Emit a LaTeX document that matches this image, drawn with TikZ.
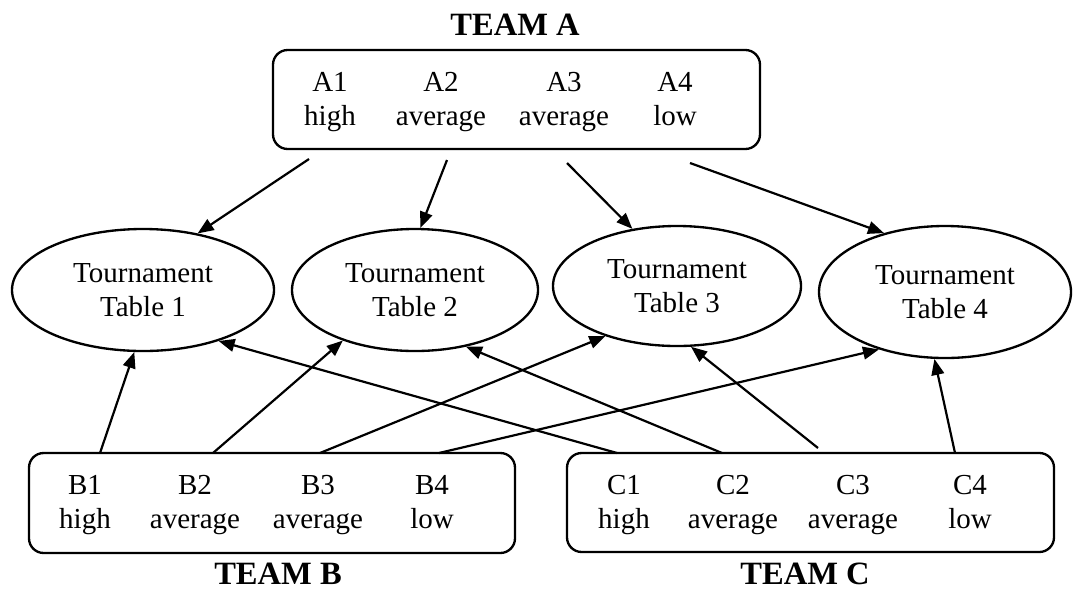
\documentclass[tikz,border=0pt]{standalone}
\usepackage{fontspec}
\setmainfont{Liberation Serif}
\usetikzlibrary{shapes.geometric,arrows.meta}
\begin{document}
\begin{tikzpicture}[x=0.75pt,y=-0.75pt,
  txt/.style={font=\fontsize{21.75}{25.5}\selectfont, align=center, inner sep=0pt},
  teamlabel/.style={font=\fontsize{24.4}{28}\selectfont\bfseries, inner sep=0pt},
  teambox/.style={draw, line width=1.75pt, rounded corners=11pt, inner sep=0pt},
  tablenode/.style={draw, ellipse, line width=1.75pt, inner sep=0pt,
    font=\fontsize{21.75}{25.5}\selectfont, align=center},
  link/.style={line width=1.65pt, -{Triangle[length=12pt,width=9.5pt]}}]
\useasboundingbox (0,0) rectangle (1073,590);

% team boxes
\node[teambox, minimum width=487*0.75pt, minimum height=99*0.75pt] (boxA) at (516.5,99.5) {};
\node[teambox, minimum width=486*0.75pt, minimum height=100*0.75pt] (boxB) at (272,503) {};
\node[teambox, minimum width=487*0.75pt, minimum height=99*0.75pt] (boxC) at (810.5,502.5) {};

% team labels
\node[teamlabel] (labA) at (515,25) {TEAM A};
\node[teamlabel] (labB) at (278,574) {TEAM B};
\node[teamlabel] (labC) at (805,574) {TEAM C};

% players
\node[txt] (A1) at (330,102) {\strut A1\\\strut high};
\node[txt] (A2) at (441,102) {\strut A2\\\strut average};
\node[txt] (A3) at (564,102) {\strut A3\\\strut average};
\node[txt] (A4) at (675,102) {\strut A4\\\strut low};

\node[txt] (B1) at (85,505) {\strut B1\\\strut high};
\node[txt] (B2) at (195,505) {\strut B2\\\strut average};
\node[txt] (B3) at (318,505) {\strut B3\\\strut average};
\node[txt] (B4) at (432,505) {\strut B4\\\strut low};

\node[txt] (C1) at (624,505) {\strut C1\\\strut high};
\node[txt] (C2) at (733,505) {\strut C2\\\strut average};
\node[txt] (C3) at (853,505) {\strut C3\\\strut average};
\node[txt] (C4) at (970,505) {\strut C4\\\strut low};

% tournament tables
\node[tablenode, minimum width=262*0.75pt, minimum height=122*0.75pt] (t1) at (143,290) {Tournament\\Table 1};
\node[tablenode, minimum width=246*0.75pt, minimum height=122*0.75pt] (t2) at (415,290) {Tournament\\Table 2};
\node[tablenode, minimum width=248*0.75pt, minimum height=120*0.75pt] (t3) at (677,286) {Tournament\\Table 3};
\node[tablenode, minimum width=252*0.75pt, minimum height=132*0.75pt] (t4) at (945,292) {Tournament\\Table 4};

% arrow start points
\coordinate (a1s) at (309,159);
\coordinate (a2s) at (447,160);
\coordinate (a3s) at (567,163);
\coordinate (a4s) at (690,163);
\coordinate (b1s) at (100,453);
\coordinate (b2s) at (213,453);
\coordinate (b3s) at (320,453);
\coordinate (b4s) at (439,453);
\coordinate (c1s) at (617,453);
\coordinate (c2s) at (722,453);
\coordinate (c3s) at (818,448);
\coordinate (c4s) at (955,453);

% connectors
\draw[link] (a1s) -- (t1.46);
\draw[link] (a2s) -- (t2.85.5);
\draw[link] (a3s) -- (t3.128.8);
\draw[link] (a4s) -- (t4.136.4);

\draw[link] (b1s) -- (t1.262.6);
\draw[link] (b2s) -- (t2.215.9);
\draw[link] (b3s) -- (t3.215.3);
\draw[link] (b4s) -- (t4.221.3);

\draw[link] (c1s) -- (t1.326.9);
\draw[link] (c2s) -- (t2.312);
\draw[link] (c3s) -- (t3.283.6);
\draw[link] (c4s) -- (t4.261.6);
\end{tikzpicture}
\end{document}
